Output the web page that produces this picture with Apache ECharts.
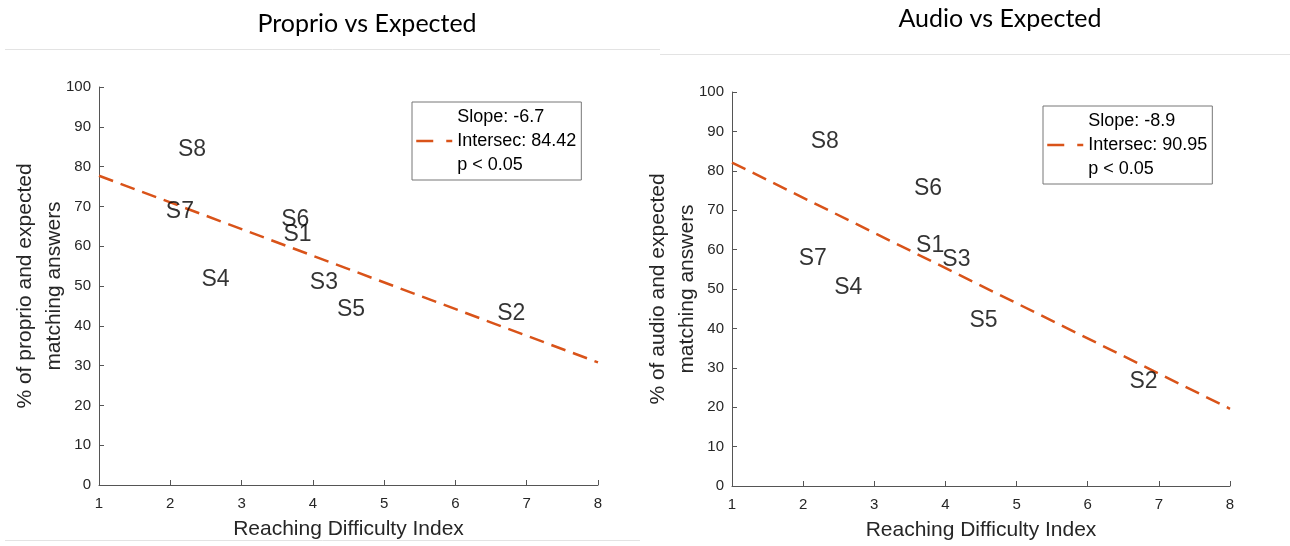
<!DOCTYPE html>
<html>
<head>
<meta charset="utf-8">
<script src="https://cdn.jsdelivr.net/npm/echarts@6/dist/echarts.min.js"></script>
<style>
html,body{margin:0;padding:0;background:#fff;}
#c{width:1290px;height:546px;}
</style>
</head>
<body>
<div id="c"></div>
<script>
// ---- data ----
const subjects = ['S1','S2','S3','S4','S5','S6','S7','S8'];
const difficulty = [3.58, 6.58, 3.95, 2.43, 4.33, 3.55, 1.93, 2.10];
const proprioPct = [62.8, 43.1, 50.9, 51.5, 44.1, 66.6, 68.7, 84.2];
const audioPct   = [61.0, 26.4, 57.5, 50.3, 42.0, 75.5, 57.7, 87.5];
const fitX = [1, 8];
const proprioFitY = [77.7, 30.8];
const audioFitY = [82.1, 19.6];
const proprioFitName = 'Slope: -6.7\nIntersec: 84.42\np < 0.05';
const audioFitName = 'Slope: -8.9\nIntersec: 90.95\np < 0.05';
const xTicks = [1,2,3,4,5,6,7,8];
const yTicks = [0,10,20,30,40,50,60,70,80,90,100];

const FONT = '"Liberation Sans", Arial, Helvetica, sans-serif';
const ORANGE = '#D95319';
const AX = '#555555';
const TXT = '#262626';

function xAxisCfg(gi){
  return {
    type:'value', gridIndex:gi, min:xTicks[0], max:xTicks[xTicks.length-1], interval:1,
    splitLine:{show:false},
    axisLine:{show:true, onZero:false, lineStyle:{color:AX, width:1}},
    axisTick:{show:true, inside:true, length:5, lineStyle:{color:AX}},
    axisLabel:{color:TXT, fontSize:15, fontFamily:FONT, margin:11},
    name:'Reaching Difficulty Index', nameLocation:'middle', nameGap:34, nameMoveOverlap:false,
    nameTextStyle:{color:TXT, fontSize:21, fontFamily:FONT}
  };
}
function yAxisCfg(gi, title){
  return {
    type:'value', gridIndex:gi, min:yTicks[0], max:yTicks[yTicks.length-1], interval:10,
    splitLine:{show:false},
    axisLine:{show:true, onZero:false, lineStyle:{color:AX, width:1}},
    axisTick:{show:true, inside:true, length:5, lineStyle:{color:AX}},
    axisLabel:{color:TXT, fontSize:15, fontFamily:FONT, margin:8},
    name:title, nameLocation:'middle', nameGap:30, nameRotate:90, nameMoveOverlap:false,
    nameTextStyle:{color:TXT, fontSize:21, lineHeight:29, fontFamily:FONT, align:'center'}
  };
}
function labelSeries(gi, ys){
  return {
    type:'scatter', xAxisIndex:gi, yAxisIndex:gi, symbolSize:1,
    itemStyle:{color:'rgba(0,0,0,0)'},
    label:{show:true, position:'right', distance:0, formatter:'{b}',
      color:'#000', fontSize:23, fontFamily:FONT},
    data: subjects.map((s,i)=>({name:s, value:[difficulty[i], ys[i]]})),
    silent:true, z:3
  };
}
function fitSeries(gi, name, ys){
  return {
    type:'line', name:name, xAxisIndex:gi, yAxisIndex:gi, symbol:'none',
    lineStyle:{color:ORANGE, width:2.5, type:[15,8]},
    itemStyle:{color:ORANGE},
    data: fitX.map((x,i)=>[x, ys[i]]), silent:true, z:2
  };
}
function legendCfg(name, left, top){
  return {
    data:[name], left:left, top:top, orient:'vertical',
    padding:[3,5,3,3], itemWidth:36, itemHeight:14,
    borderColor:'#777', borderWidth:1, backgroundColor:'#fff',
    itemStyle:{color:'rgba(0,0,0,0)', borderColor:'rgba(0,0,0,0)', borderWidth:0, opacity:0},
    lineStyle:{color:ORANGE, width:2.5, type:[17,13]},
    textStyle:{color:'#000', fontSize:18, lineHeight:24, fontFamily:FONT},
    selectedMode:false
  };
}

const chart = echarts.init(document.getElementById('c'), null, {renderer:'canvas'});
chart.setOption({
  animation:false,
  backgroundColor:'#fff',
  title:[
    {text:'Proprio vs Expected', left:362, top:6, textAlign:'center',
     textStyle:{fontFamily:'Lato, "Open Sans", sans-serif', fontWeight:'normal', fontSize:25, color:'#000'}},
    {text:'Audio vs Expected', left:995, top:1, textAlign:'center',
     textStyle:{fontFamily:'Lato, "Open Sans", sans-serif', fontWeight:'normal', fontSize:25, color:'#000'}}
  ],
  grid:[
    {left:99, top:87, width:499, height:398, containLabel:false},
    {left:732, top:92, width:498, height:397, containLabel:false}
  ],
  xAxis:[xAxisCfg(0), xAxisCfg(1)],
  yAxis:[yAxisCfg(0,'% of proprio and expected\nmatching answers'), yAxisCfg(1,'% of audio and expected\nmatching answers')],
  legend:[legendCfg(proprioFitName, 412, 102), legendCfg(audioFitName, 1043, 106)],
  series:[
    fitSeries(0, proprioFitName, proprioFitY),
    labelSeries(0, proprioPct),
    fitSeries(1, audioFitName, audioFitY),
    labelSeries(1, audioPct)
  ],
  graphic:[
    {type:'line', shape:{x1:5, y1:49.5, x2:660, y2:49.5}, style:{stroke:'#e3e3e3', lineWidth:1}, silent:true},
    {type:'line', shape:{x1:660, y1:54.5, x2:1290, y2:54.5}, style:{stroke:'#e3e3e3', lineWidth:1}, silent:true},
    {type:'line', shape:{x1:5, y1:540.5, x2:640, y2:540.5}, style:{stroke:'#e3e3e3', lineWidth:1}, silent:true}
  ]
});
</script>
</body>
</html>
